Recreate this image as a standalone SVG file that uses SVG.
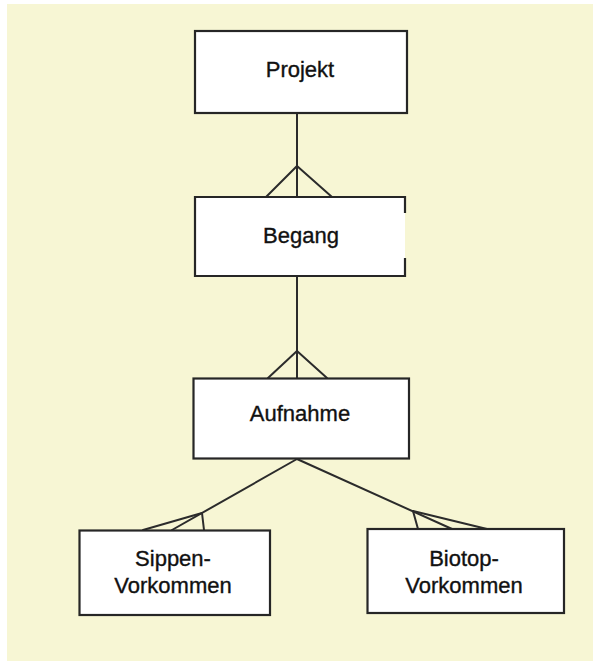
<svg xmlns="http://www.w3.org/2000/svg" width="593" height="661" viewBox="0 0 593 661">
  <style>
    .box { fill: #ffffff; stroke: #262626; stroke-width: 2.2; }
    .lbl { font-family: "Liberation Sans", Arial, sans-serif; font-size: 22px; fill: #111111; stroke: #111111; stroke-width: 0.35; text-anchor: middle; }
    .conn line { stroke: #2b2b2b; stroke-width: 2; stroke-linecap: round; }
  </style>
  <rect x="0" y="0" width="593" height="661" fill="#ffffff"/>
  <rect x="7" y="4" width="586" height="657" fill="#f7f6d4"/>

  <g id="connectors" class="conn">
    <line x1="297" y1="113" x2="297" y2="197"/>
    <line x1="297" y1="166" x2="266" y2="197"/>
    <line x1="297" y1="166" x2="332" y2="197"/>

    <line x1="297" y1="276" x2="297" y2="378"/>
    <line x1="297" y1="351" x2="268" y2="378"/>
    <line x1="297" y1="351" x2="327" y2="378"/>

    <line x1="297" y1="459" x2="172" y2="530"/>
    <line x1="202" y1="513" x2="143" y2="530"/>
    <line x1="202" y1="513" x2="204" y2="530"/>

    <line x1="297" y1="459" x2="452" y2="529"/>
    <line x1="413" y1="511" x2="418" y2="529"/>
    <line x1="413" y1="511" x2="487" y2="529"/>
  </g>

  <g id="projekt">
    <rect class="box" x="195" y="31" width="212" height="82"/>
    <text class="lbl" x="300" y="77">Projekt</text>
  </g>

  <g id="begang">
    <rect x="195" y="197" width="210" height="79" fill="#ffffff"/>
    <path d="M405 213 V197 H195 V276 H405 V258" fill="none" stroke="#262626" stroke-width="2.2"/>
    <text class="lbl" x="301" y="243">Begang</text>
  </g>

  <g id="aufnahme">
    <rect class="box" x="193.5" y="378.5" width="215.5" height="80"/>
    <text class="lbl" x="300" y="421">Aufnahme</text>
  </g>

  <g id="sippen">
    <rect class="box" x="79.5" y="530.5" width="190.5" height="84.5"/>
    <text class="lbl" x="173" y="566">Sippen-</text>
    <text class="lbl" x="173" y="593">Vorkommen</text>
  </g>

  <g id="biotop">
    <rect class="box" x="367.5" y="529" width="196.5" height="84"/>
    <text class="lbl" x="464" y="566">Biotop-</text>
    <text class="lbl" x="464" y="593">Vorkommen</text>
  </g>
</svg>
